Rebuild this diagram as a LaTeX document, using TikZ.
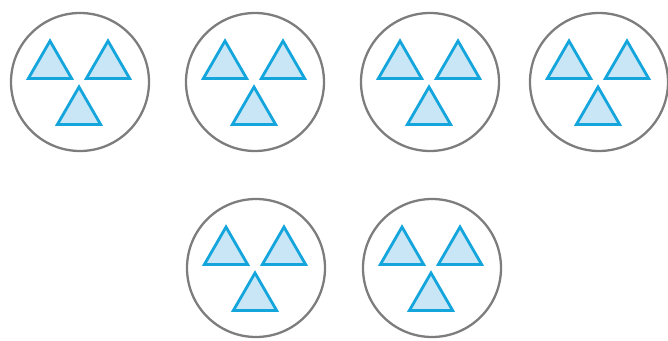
\documentclass[tikz,border=0pt]{standalone}
\usepackage{xcolor}
\usepackage{tikz}
\usetikzlibrary{shapes.geometric, calc}
\definecolor{ringgray}{RGB}{125,125,125}
\definecolor{tristroke}{RGB}{20,165,220}
\definecolor{trifill}{RGB}{200,230,245}

\begin{document}
\begin{tikzpicture}[x=1pt, y=1pt,
  ring/.style={circle, draw=ringgray, line width=2.3pt, fill=white, minimum size=138pt, inner sep=0pt},
  tri/.style={regular polygon, regular polygon sides=3, draw=tristroke, line width=2.8pt, fill=trifill, minimum size=50pt, inner sep=0pt}]
  \useasboundingbox (0,0) rectangle (668,340);
  \foreach \n/\x/\y in {1/80/258, 2/255/258, 3/430/258, 4/599/258, 5/256/72, 6/432/72} {
    \node[ring] (r\n) at (\x,\y) {};
    \node[tri] (a\n) at ($(r\n)+(-30,16)$) {};
    \node[tri] (b\n) at ($(r\n)+(28,16)$) {};
    \node[tri] (c\n) at ($(r\n)+(-1,-30)$) {};
  }
\end{tikzpicture}
\end{document}
